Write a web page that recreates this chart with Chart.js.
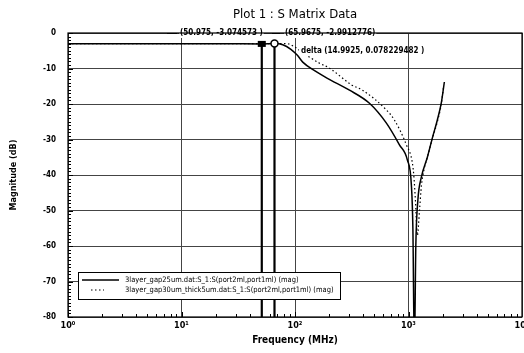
<!DOCTYPE html>
<html>
<head>
<meta charset="utf-8">
<script src="https://cdn.jsdelivr.net/npm/chart.js@4"></script>
<style>
  html, body { margin: 0; padding: 0; background: #fff; }
  #wrap { width: 524px; height: 353px; }
</style>
</head>
<body>
<div id="wrap"><canvas id="c" width="524" height="353"></canvas></div>
<script>
// frequencies in MHz, magnitudes in dB
const freqSolid = [1, 10, 30, 50.975, 65.9675, 78, 92, 105, 117, 150, 193, 302, 453, 639, 832, 978, 1060, 1093, 1127, 1160, 1210, 1298, 1466, 1622, 1795, 1945, 2070];
const magSolid  = [-3.0, -3.0, -3.05, -3.07, -2.99, -3.3, -4.6, -6.3, -8.2, -10.7, -12.8, -16.1, -19.8, -25.4, -31.5, -35.8, -42.8, -55, -90, -60, -47, -40.6, -35, -29.6, -24.5, -19.7, -13.8];

const freqDotted = [1, 10, 50.975, 66, 85, 100, 120, 164.5, 201, 315, 393, 639, 751, 958, 1082, 1116, 1150, 1197, 1250, 1300, 1380, 1466, 1620, 1795, 1945, 2030];
const magDotted  = [-3.0, -3.0, -3.0, -2.95, -3.0, -4.0, -5.8, -8.5, -9.9, -14.6, -16.1, -21.7, -24.5, -31.5, -36.6, -40.5, -47, -57, -50, -43, -38, -35, -29.8, -25, -20, -15.5];

const seriesNames = [
  "3layer_gap25um.dat:S_1:S(port2ml,port1ml) (mag)",
  "3layer_gap30um_thick5um.dat:S_1:S(port2ml,port1ml) (mag)"
];
const decadeTicks = [1, 10, 100, 1000, 10000];
const decadeLabels = ["10\u2070", "10\u00b9", "10\u00b2", "10\u00b3", "10\u2074"];

const markerFreqs = [50.975, 65.9675];
const markerMags = [-3.074573, -2.9912776];
const markerTexts = ["(50.975, -3.074573 )", "(65.9675, -2.9912776)"];
const deltaText = "(14.9925, 0.078229482 )";

const toPoints = (xs, ys) => xs.map((x, i) => ({ x: x, y: ys[i] }));

const narrow = "'Liberation Sans Narrow', 'DejaVu Sans Condensed', 'Liberation Sans', sans-serif";

const decorPlugin = {
  id: "decor",
  afterDatasetsDraw(chart) {
    const ctx = chart.ctx;
    const xs = chart.scales.x, ys = chart.scales.y;
    const a = chart.chartArea;
    ctx.save();
    // minor ticks on the y axis
    ctx.strokeStyle = "#000";
    ctx.lineWidth = 1;
    ctx.beginPath();
    for (let v = 0; v >= -80; v -= 1) {
      const y = Math.round(ys.getPixelForValue(v)) + 0.5;
      ctx.moveTo(a.left, y);
      ctx.lineTo(a.left + (v % 10 === 0 ? 5 : 3), y);
    }
    // minor ticks on the x axis
    for (let d = 1; d < 10000; d *= 10) {
      for (let k = 1; k <= 9; k++) {
        const x = Math.round(xs.getPixelForValue(d * k)) + 0.5;
        ctx.moveTo(x, a.bottom);
        ctx.lineTo(x, a.bottom - (k === 1 ? 5 : 3));
      }
    }
    ctx.stroke();

    // marker lines
    ctx.lineWidth = 2.2;
    markerFreqs.forEach((f, i) => {
      const x = xs.getPixelForValue(f);
      ctx.beginPath();
      ctx.moveTo(x, ys.getPixelForValue(markerMags[i]));
      ctx.lineTo(x, a.bottom);
      ctx.stroke();
    });
    // marker symbols
    let x0 = xs.getPixelForValue(markerFreqs[0]);
    let y0 = ys.getPixelForValue(markerMags[0]);
    ctx.fillStyle = "#000";
    ctx.fillRect(x0 - 4, y0 - 3, 8, 6);
    let x1 = xs.getPixelForValue(markerFreqs[1]);
    let y1 = ys.getPixelForValue(markerMags[1]);
    ctx.lineWidth = 1.5;
    ctx.beginPath();
    ctx.arc(x1, y1, 3.5, 0, Math.PI * 2);
    ctx.fillStyle = "#fff";
    ctx.fill();
    ctx.stroke();

    // marker labels with white boxes
    ctx.font = "bold 8px " + narrow;
    ctx.textBaseline = "middle";
    const labelY = a.top;
    const drawLabel = (txt, x, y) => {
      const w = ctx.measureText(txt).width;
      ctx.fillStyle = "#fff";
      ctx.fillRect(x - 1, y - 5, w + 2, 10);
      ctx.fillStyle = "#000";
      ctx.fillText(txt, x, y);
      return w;
    };
    ctx.textAlign = "left";
    ctx.lineWidth = 1;
    ctx.beginPath();
    ctx.moveTo(167, labelY + 0.5); ctx.lineTo(177, labelY + 0.5);
    ctx.moveTo(272, labelY + 0.5); ctx.lineTo(280, labelY + 0.5);
    ctx.stroke();
    drawLabel(markerTexts[0], 180, labelY);
    drawLabel(markerTexts[1], 285, labelY);
    ctx.fillStyle = "#fff";
    ctx.fillRect(299, 45, 92, 11);
    ctx.fillStyle = "#000";
    ctx.font = "bold 8px " + narrow;
    ctx.fillText("delta", 301, 51);
    const dw = ctx.measureText("delta ").width;
    ctx.fillText(deltaText, 301 + dw, 51);

    // legend box
    const lx = 78, ly = 272, lw = 262, lh = 27;
    ctx.fillStyle = "#fff";
    ctx.fillRect(lx, ly, lw, lh);
    ctx.strokeStyle = "#000";
    ctx.lineWidth = 1;
    ctx.strokeRect(lx + 0.5, ly + 0.5, lw, lh);
    chart.data.datasets.forEach((ds, i) => {
      const yy = ly + 8 + i * 10;
      ctx.save();
      ctx.strokeStyle = "#000";
      ctx.lineWidth = ds.borderWidth;
      ctx.setLineDash(ds.borderDash || []);
      ctx.beginPath();
      if (i === 0) { ctx.moveTo(82, yy); ctx.lineTo(119, yy); }
      else { ctx.moveTo(91, yy); ctx.lineTo(104, yy); }
      ctx.stroke();
      ctx.restore();
      ctx.fillStyle = "#000";
      ctx.font = "7.5px " + narrow;
      ctx.textAlign = "left";
      ctx.fillText(seriesNames[i], 125, yy);
    });

    // border box
    ctx.lineWidth = 1.2;
    ctx.strokeRect(a.left, a.top, a.right - a.left, a.bottom - a.top);
    ctx.restore();
  },
  afterDraw(chart) {
    const ctx = chart.ctx;
    const a = chart.chartArea;
    ctx.save();
    ctx.fillStyle = "#000";
    ctx.textAlign = "center";
    ctx.textBaseline = "middle";
    ctx.font = "13px " + narrow;
    ctx.fillText("Plot 1 : S Matrix Data", (a.left + a.right) / 2, 15);
    ctx.font = "bold 10px " + narrow;
    ctx.fillText("Frequency (MHz)", (a.left + a.right) / 2, 340);
    ctx.translate(14, 175);
    ctx.rotate(-Math.PI / 2);
    ctx.font = "bold 9px " + narrow;
    ctx.fillText("Magnitude (dB)", 0, 0);
    ctx.restore();
  }
};

new Chart(document.getElementById("c"), {
  type: "line",
  data: {
    datasets: [
      {
        label: seriesNames[0],
        data: toPoints(freqSolid, magSolid),
        borderColor: "#000",
        borderWidth: 1.5,
        pointRadius: 0,
        cubicInterpolationMode: "monotone",
        fill: false
      },
      {
        label: seriesNames[1],
        data: toPoints(freqDotted, magDotted),
        borderColor: "#000",
        borderWidth: 1.2,
        borderDash: [1.5, 2.5],
        pointRadius: 0,
        cubicInterpolationMode: "monotone",
        fill: false
      }
    ]
  },
  options: {
    responsive: false,
    animation: false,
    layout: { padding: { left: 0, right: 2, top: 33, bottom: 0 } },
    plugins: {
      legend: { display: false },
      title: { display: false },
      tooltip: { enabled: false }
    },
    scales: {
      x: {
        type: "logarithmic",
        min: 1,
        max: 10000,
        afterBuildTicks: (scale) => { scale.ticks = decadeTicks.map(v => ({ value: v })); },
        afterFit: (scale) => { scale.height = 36; scale.paddingLeft = 0; scale.paddingRight = 0; },
        grid: { color: "#444", lineWidth: 1, drawTicks: false },
        border: { display: false },
        ticks: {
          autoSkip: false,
          maxRotation: 0,
          padding: 3,
          color: "#000",
          font: { family: narrow, size: 9, weight: "bold" },
          callback: (v) => decadeLabels[decadeTicks.indexOf(v)] || ""
        }
      },
      y: {
        min: -80,
        max: 0,
        afterFit: (scale) => { scale.width = 68; scale.paddingTop = 0; scale.paddingBottom = 0; },
        grid: { color: "#444", lineWidth: 1, drawTicks: false },
        border: { display: false },
        ticks: {
          stepSize: 10,
          padding: 12,
          color: "#000",
          font: { family: narrow, size: 8, weight: "bold" }
        }
      }
    }
  },
  plugins: [decorPlugin]
});
</script>
</body>
</html>
